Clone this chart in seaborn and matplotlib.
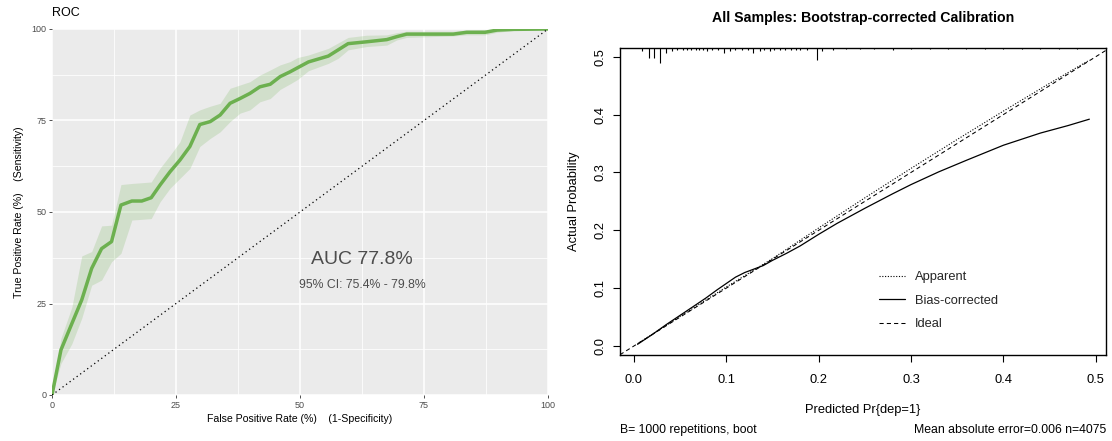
import numpy as np
import pandas as pd
import matplotlib
matplotlib.use("Agg")
import matplotlib.pyplot as plt
import seaborn as sns

# ---------------- data ----------------
# ROC curve (percent)
roc_fpr = [0, 1.8, 4, 6, 8, 10, 12, 13.9, 16.1, 18.1, 20, 21.8, 23.8, 25.8, 27.8, 29.8,
           31.9, 33.9, 35.9, 37.9, 39.9, 41.9, 44, 46, 48, 49.5, 51.7, 55.7, 57.7, 59.7,
           63.4, 67.5, 69.5, 71.5, 80.9, 83.6, 87.3, 89.7, 93.1, 100]
roc_tpr = [0, 12.3, 19.5, 26, 34.6, 40, 41.9, 51.9, 53, 53, 53.9, 57.4, 61, 64.2, 67.9, 73.9,
           74.7, 76.5, 79.7, 81, 82.4, 84.2, 84.9, 87, 88.3, 89.4, 91, 92.6, 94.3, 96,
           96.5, 97.1, 97.9, 98.6, 98.6, 99.1, 99.1, 99.7, 99.9, 100]
roc_lo = [0, 8.6, 14, 21, 30, 31.4, 36.4, 38.7, 47.8, 48, 48.2, 52.8, 56.5, 59.2, 61.9, 67.9,
          70.1, 71.9, 74.7, 77, 77.9, 80.1, 81, 83.5, 85, 86.2, 88.6, 90.6, 92, 94.3,
          95.2, 95.6, 97, 97.7, 98.1, 98.4, 98.4, 99.1, 99.6, 100]
roc_hi = [0, 15.5, 24, 38, 39.2, 46.2, 46.4, 57.5, 57.8, 58, 58.2, 62, 65.5, 69.2, 76.5, 77.9,
          78.9, 79.7, 83.8, 84.7, 85.6, 87.4, 88.8, 90.2, 91.1, 92.2, 92.9, 94.7, 96.2, 97.7,
          98.3, 98.4, 99, 99.4, 99.4, 99.7, 99.8, 100, 100, 100]
chance_line = [0, 100]
roc_ticks = [0, 25, 50, 75, 100]
auc_text = "AUC 77.8%"
ci_text = "95% CI: 75.4% - 79.8%"

# Calibration curves
bias_x = [0.004, 0.02, 0.035, 0.05, 0.065, 0.078, 0.09, 0.1, 0.11, 0.12, 0.13, 0.14, 0.15,
          0.165, 0.18, 0.2, 0.22, 0.25, 0.28, 0.3, 0.33, 0.36, 0.4, 0.44, 0.47, 0.493]
bias_y = [0.003, 0.02, 0.037, 0.053, 0.069, 0.083, 0.097, 0.108, 0.119, 0.127, 0.133, 0.139,
          0.148, 0.160, 0.173, 0.193, 0.212, 0.238, 0.263, 0.279, 0.301, 0.321, 0.347, 0.368,
          0.381, 0.392]
app_x = [0.004, 0.05, 0.1, 0.15, 0.2, 0.25, 0.3, 0.35, 0.4, 0.45, 0.493]
app_y = [0.004, 0.051, 0.102, 0.151, 0.204, 0.256, 0.307, 0.357, 0.406, 0.454, 0.494]
# distribution of predicted probabilities (rug at top), relative heights
rug_x = [0.009, 0.0165, 0.022, 0.028, 0.035, 0.041, 0.047, 0.053, 0.058, 0.062, 0.067, 0.071,
         0.075, 0.079, 0.085, 0.091, 0.098, 0.104, 0.11, 0.117, 0.123, 0.129, 0.136, 0.141,
         0.147, 0.152, 0.158, 0.164, 0.17, 0.175, 0.18, 0.187, 0.198, 0.204, 0.215, 0.23,
         0.245, 0.26, 0.28, 0.3, 0.32, 0.34, 0.36, 0.38, 0.4, 0.42, 0.44, 0.46, 0.48]
rug_h = [3.3, 10, 10, 15, 5, 3, 2, 2, 2, 2, 2, 2,
         2, 3, 2, 2, 5, 3, 2, 2, 2, 5, 3, 2,
         3, 2, 2, 2, 2, 2, 2, 2, 12, 3, 2, 1.5,
         1.5, 1.5, 2, 1.5, 1.5, 1.5, 1.5, 1.5, 1.5, 1.5, 1.5, 1.5, 1.5]
cal_ticks = [0.0, 0.1, 0.2, 0.3, 0.4, 0.5]
cal_labels = ["0.0", "0.1", "0.2", "0.3", "0.4", "0.5"]

# ---------------- style ----------------
sns.set_theme(style="white")
plt.rcParams["font.family"] = ["Liberation Sans", "DejaVu Sans"]

W, H = 1112, 441
fig = plt.figure(figsize=(W / 100, H / 100), dpi=100)

def rect(l, r, t, b):
    return [l / W, 1 - b / H, (r - l) / W, (b - t) / H]

green = "#6CB04F"

# ---------------- ROC panel ----------------
ax1 = fig.add_axes(rect(52, 548, 29, 395))
ax1.set_facecolor("#EBEBEB")
for s in ax1.spines.values():
    s.set_visible(False)
ax1.set_xlim(0, 100)
ax1.set_ylim(0, 100)
ax1.set_xticks(roc_ticks)
ax1.set_yticks(roc_ticks)
ax1.set_xticks([12.5, 37.5, 62.5, 87.5], minor=True)
ax1.set_yticks([12.5, 37.5, 62.5, 87.5], minor=True)
ax1.grid(True, which="major", color="white", lw=1.1)
ax1.grid(True, which="minor", color="white", lw=0.55)
ax1.set_axisbelow(True)
ax1.tick_params(which="major", length=2.5, width=0.6, color="#333333",
                labelsize=6.5, labelcolor="#4D4D4D", pad=1.5, bottom=True, left=True)
ax1.tick_params(which="minor", length=0)

ax1.fill_between(roc_fpr, roc_lo, roc_hi, color=green, alpha=0.2, lw=0, zorder=2)
sns.lineplot(x=roc_fpr, y=roc_tpr, sort=False, color=green, lw=2.5, ax=ax1,
             estimator=None, zorder=3)
sns.lineplot(x=chance_line, y=chance_line, color="black", lw=0.9, ax=ax1,
             linestyle=(0, (1, 2.5)), estimator=None, zorder=3)
ax1.text(62.5, 37, auc_text, ha="center", va="center", fontsize=14, color="#4D4D4D")
ax1.text(62.5, 30, ci_text, ha="center", va="center", fontsize=8.8, color="#4D4D4D")
ax1.set_xlabel("False Positive Rate (%)    (1-Specificity)", fontsize=7.6, color="black",
               labelpad=3)
ax1.set_ylabel("True Positive Rate (%)    (Sensitivity)", fontsize=7.6, color="black",
               labelpad=5)
ax1.set_title("ROC", loc="left", fontsize=9, color="black", pad=9)

# ---------------- Calibration panel ----------------
ax2 = fig.add_axes(rect(620, 1106, 48, 355))
ax2.set_facecolor("white")
for s in ax2.spines.values():
    s.set_visible(True)
    s.set_color("black")
    s.set_linewidth(1.0)
ax2.set_xlim(-0.015, 0.511)
ax2.set_ylim(-0.0155, 0.515)

ax2.axline((0, 0), slope=1, color="black", lw=0.75, linestyle=(0, (4, 3)),
           label="Ideal", zorder=2)
sns.lineplot(x=app_x, y=app_y, color="black", lw=0.8, linestyle=(0, (1, 1.5)),
             ax=ax2, estimator=None, sort=False, label="Apparent", zorder=3)
sns.lineplot(x=bias_x, y=bias_y, color="black", lw=0.9, linestyle="-",
             ax=ax2, estimator=None, sort=False, label="Bias-corrected", zorder=3)

# rug of predicted values hanging from the top frame
ytop = ax2.get_ylim()[1]
px_to_y = (ax2.get_ylim()[1] - ax2.get_ylim()[0]) / 307.0
ax2.vlines(rug_x, [ytop - h * px_to_y for h in rug_h], ytop, color="black", lw=0.8)

ax2.set_xticks(cal_ticks)
ax2.set_xticklabels(cal_labels)
ax2.set_yticks(cal_ticks)
ax2.set_yticklabels(cal_labels, rotation=90, va="center")
ax2.tick_params(axis="both", length=5, width=0.8, color="black", labelsize=9.3,
                labelcolor="black", direction="out", bottom=True, left=True)
ax2.tick_params(axis="x", pad=9)
ax2.tick_params(axis="y", pad=5)
ax2.set_xlabel("Predicted Pr{dep=1}", fontsize=9.3, color="black", labelpad=13)
ax2.set_ylabel("Actual Probability", fontsize=9.3, color="black", labelpad=10)
ax2.set_title("All Samples: Bootstrap-corrected Calibration", fontsize=10.2,
              fontweight="bold", color="black", pad=19)
ax2.text(0.0, -0.245, "B= 1000 repetitions, boot", transform=ax2.transAxes,
         ha="left", va="center", fontsize=8.8, color="black")
ax2.text(1.0, -0.245, "Mean absolute error=0.006 n=4075", transform=ax2.transAxes,
         ha="right", va="center", fontsize=8.8, color="black")

handles, labels = ax2.get_legend_handles_labels()
order = [labels.index(n) for n in ["Apparent", "Bias-corrected", "Ideal"]]
ax2.legend([handles[i] for i in order], [labels[i] for i in order],
           loc="upper left", bbox_to_anchor=(0.51, 0.31), frameon=False,
           fontsize=9.3, handlelength=2.0, handletextpad=0.75, labelspacing=0.88)

fig.savefig("out.png", dpi=100)
